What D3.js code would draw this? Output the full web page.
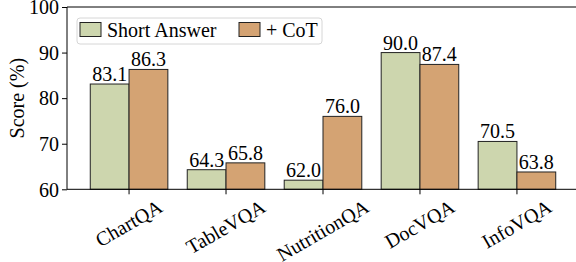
<!DOCTYPE html>
<html>
<head>
<meta charset="utf-8">
<script src="https://cdn.jsdelivr.net/npm/d3@7"></script>
<style>
  body { margin: 0; background: #fff; }
  svg text { font-family: "Liberation Serif", "Times New Roman", serif !important; fill: #000; }
</style>
</head>
<body>
<div id="plot"></div>
<script>
// chart values
var categories = ["ChartQA", "TableVQA", "NutritionQA", "DocVQA", "InfoVQA"];
var seriesNames = ["Short Answer", "+ CoT"];
var shortAnswer = [83.1, 64.3, 62.0, 90.0, 70.5];
var cot = [86.3, 65.8, 76.0, 87.4, 63.8];
var yTicks = [60, 70, 80, 90, 100];
var colors = ["#cdd6ae", "#d4a373"];

var W = 576, H = 262;
var margin = {top: 7, left: 67, bottom: 73};
var plotRight = 579; // axes extend past the picture edge
var plotBottom = H - margin.bottom + 0.3;
var serif = "'Liberation Serif', 'Times New Roman', serif";

var svg = d3.select("#plot").append("svg")
  .attr("width", W).attr("height", H);

var x = d3.scaleBand()
  .domain(categories)
  .range([margin.left, plotRight])
  .paddingInner(0.2)
  .paddingOuter(0.24);
var xSub = d3.scaleBand()
  .domain([0, 1])
  .range([0, x.bandwidth()]);
var y = d3.scaleLinear()
  .domain([60, 100])
  .range([plotBottom, margin.top]);

// bars
var series = [shortAnswer, cot];
series.forEach(function(vals, s) {
  var g = svg.append("g");
  g.selectAll("rect").data(vals).enter().append("rect")
    .attr("x", function(d, i) { return x(categories[i]) + xSub(s); })
    .attr("y", function(d) { return y(d); })
    .attr("width", xSub.bandwidth())
    .attr("height", function(d) { return y(60) - y(d); })
    .attr("fill", colors[s])
    .attr("stroke", "#222")
    .attr("stroke-width", 1);
  g.selectAll("text").data(vals).enter().append("text")
    .attr("x", function(d, i) { return x(categories[i]) + xSub(s) + xSub.bandwidth() / 2; })
    .attr("y", function(d) { return y(d) - 3; })
    .attr("text-anchor", "middle")
    .style("font-family", serif)
    .style("font-size", "20px")
    .text(function(d) { return d.toFixed(1); });
});

// spines: left, top, bottom
svg.append("line").attr("x1", margin.left).attr("x2", margin.left)
  .attr("y1", margin.top).attr("y2", plotBottom).attr("stroke", "#000");
svg.append("line").attr("x1", margin.left).attr("x2", plotRight)
  .attr("y1", margin.top).attr("y2", margin.top).attr("stroke", "#000");

// y axis
var yAxis = svg.append("g")
  .attr("transform", "translate(" + margin.left + ",0)")
  .attr("font-family", serif)
  .call(d3.axisLeft(y).tickValues(yTicks).tickSize(5).tickPadding(3));
yAxis.attr("font-family", serif);
yAxis.select(".domain").remove();
yAxis.selectAll("text")
  .style("font-family", serif).style("font-size", "20px")
  .attr("dy", "0.34em");
yAxis.selectAll("line").attr("stroke", "#000");

// x axis
var xAxis = svg.append("g")
  .attr("transform", "translate(0," + plotBottom + ")")
  .call(d3.axisBottom(x).tickSize(5).tickSizeOuter(0));
xAxis.select(".domain").attr("stroke", "#000").attr("d", "M" + margin.left + ",0H" + plotRight);
xAxis.selectAll("text").remove();
xAxis.selectAll("line").attr("stroke", "#000");

// rotated category labels (centered, 30 deg)
var labelTop = plotBottom + 9;
categories.forEach(function(c) {
  var t = svg.append("text")
    .attr("text-anchor", "middle")
    .attr("dy", "0.32em")
    .style("font-family", serif)
    .style("font-size", "20px")
    .text(c);
  var w = t.node().getComputedTextLength();
  var h = 16;
  var bh = w * Math.sin(Math.PI / 6) + h * Math.cos(Math.PI / 6);
  var cx = x(c) + x.bandwidth() / 2, cy = labelTop + bh / 2;
  t.attr("transform", "translate(" + cx + "," + cy + ") rotate(-30)");
});

// y label
svg.append("text")
  .attr("transform", "translate(24," + ((margin.top + plotBottom) / 2) + ") rotate(-90)")
  .attr("text-anchor", "middle")
  .style("font-family", serif)
  .style("font-size", "20px")
  .text("Score (%)");

// legend
var legend = svg.append("g");
legend.append("rect")
  .attr("x", 77).attr("y", 18).attr("width", 245).attr("height", 26)
  .attr("rx", 3).attr("fill", "#fff").attr("fill-opacity", 0.8)
  .attr("stroke", "#d6d6d6");
var legX = [80, 239];
seriesNames.forEach(function(n, i) {
  legend.append("rect")
    .attr("x", legX[i]).attr("y", 22.5).attr("width", 21).attr("height", 14)
    .attr("fill", colors[i]).attr("stroke", "#222");
  legend.append("text")
    .attr("x", legX[i] + 27).attr("y", 37)
    .style("font-family", serif)
    .style("font-size", "20px")
    .text(n);
});
</script>
</body>
</html>
